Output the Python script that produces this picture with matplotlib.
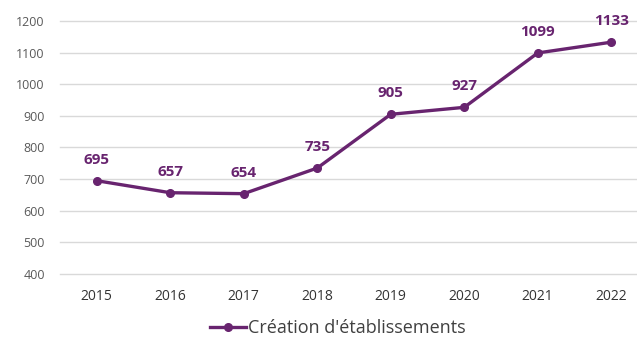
import matplotlib
matplotlib.use("Agg")
import matplotlib.pyplot as plt
from matplotlib.lines import Line2D

years = ["2015", "2016", "2017", "2018", "2019", "2020", "2021", "2022"]
creations = [695, 657, 654, 735, 905, 927, 1099, 1133]
series_name = "Création d'établissements"
y_ticks = [400, 500, 600, 700, 800, 900, 1000, 1100, 1200]

purple = "#68246F"
plt.rcParams["font.family"] = ["Open Sans", "DejaVu Sans"]

W, H = 637, 342
fig = plt.figure(figsize=(W / 100, H / 100), dpi=100)
# axes in pixel coordinates: x from 60 to 648, y from 21 (1200) to 274 (400)
left, right, top, bottom = 60, 648, 21, 274
ax = fig.add_axes([left / W, 1 - bottom / H, (right - left) / W, (bottom - top) / H])

x = list(range(len(years)))
ax.plot(x, creations, color=purple, lw=2.4, marker="o", ms=5.5, solid_capstyle="round")
for xi, v in zip(x, creations):
    ax.annotate(str(v), (xi, v), xytext=(0, 10), textcoords="offset points",
                ha="center", va="bottom", color=purple, fontsize=11, fontweight="bold")

ax.set_xlim(-0.5, len(years) - 0.5)
ax.set_ylim(400, 1200)
ax.set_yticks(y_ticks)
ax.set_xticks(x)
ax.set_xticklabels(years)
ax.tick_params(axis="y", length=0, pad=11, labelsize=9, labelcolor="#595959")
ax.tick_params(axis="x", length=0, pad=11, labelsize=10, labelcolor="#333333")
ax.grid(axis="y", color="#D9D9D9", lw=1)
for gl in ax.get_ygridlines():
    gl.set_clip_on(False)
ax.set_axisbelow(True)
for s in ax.spines.values():
    s.set_visible(False)

handle = Line2D([], [], color=purple, lw=2.4, marker="o", ms=5.5)
fig.legend([handle], [series_name], loc="center", bbox_to_anchor=(338 / W, 1 - 328 / H),
           frameon=False, fontsize=13, handlelength=2.0, handletextpad=0.1,
           labelcolor="#404040")

fig.savefig("out.png", dpi=100)
